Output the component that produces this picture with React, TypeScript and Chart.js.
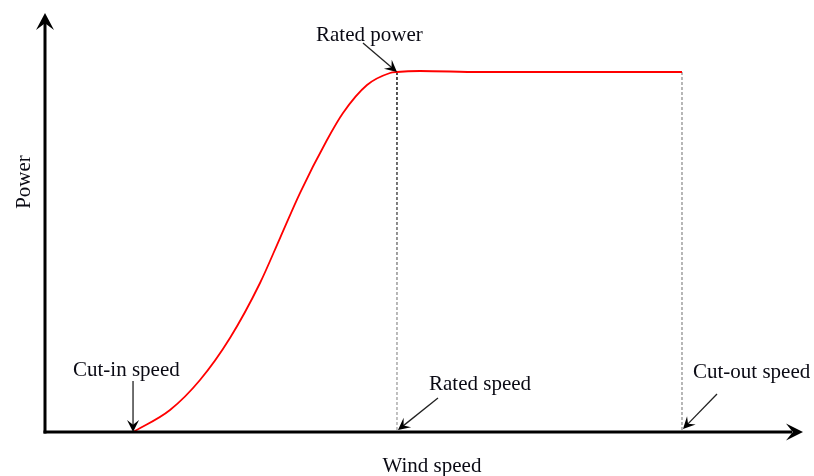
import React, { useEffect, useRef } from "react";
import { Chart, registerables } from "chart.js";

Chart.register(...registerables);

// Power curve (arbitrary units)
const windSpeed = [11.66, 16.56, 20.53, 24.5, 28.48, 31.13, 33.77, 37.35, 39.47, 42.65, 45.7, 46.62, 49.67, 57.62, 70, 84.37];
const power = [0, 5.28, 12.47, 22.54, 35.73, 46.52, 57.31, 70.02, 76.5, 83.21, 86.09, 86.33, 86.57, 86.33, 86.33, 86.33];

const cutInSpeed = 11.66;
const ratedSpeed = 46.62;
const cutOutSpeed = 84.37;
const ratedPower = 86.33;

const xAxisTitle = "Wind speed";
const yAxisTitle = "Power";
const ratedPowerLabel = "Rated power";
const cutInLabel = "Cut-in speed";
const ratedSpeedLabel = "Rated speed";
const cutOutLabel = "Cut-out speed";

const FONT = "21px 'Liberation Serif', 'DejaVu Serif', serif";

function arrowHead(ctx: CanvasRenderingContext2D, tx: number, ty: number, angle: number, L: number, W: number, notch: number) {
  ctx.save();
  ctx.translate(tx, ty);
  ctx.rotate(angle);
  ctx.beginPath();
  ctx.moveTo(0, 0);
  ctx.lineTo(-L, -W);
  ctx.lineTo(-L * notch, 0);
  ctx.lineTo(-L, W);
  ctx.closePath();
  ctx.fill();
  ctx.restore();
}

function arrow(ctx: CanvasRenderingContext2D, fx: number, fy: number, tx: number, ty: number) {
  const ang = Math.atan2(ty - fy, tx - fx);
  ctx.save();
  ctx.strokeStyle = "#222";
  ctx.fillStyle = "#000";
  ctx.lineWidth = 1.3;
  ctx.beginPath();
  ctx.moveTo(fx, fy);
  ctx.lineTo(tx - Math.cos(ang) * 5, ty - Math.sin(ang) * 5);
  ctx.stroke();
  arrowHead(ctx, tx, ty, ang, 12, 6, 0.6);
  ctx.restore();
}

const diagramPlugin = {
  id: "diagram",
  beforeDatasetsDraw(chart: any) {
    const { ctx, scales } = chart;
    const xs = scales.x, ys = scales.y;
    const y0 = ys.getPixelForValue(0);
    const topY = ys.getPixelForValue(ratedPower);
    const rX = xs.getPixelForValue(ratedSpeed);
    const cX = xs.getPixelForValue(cutOutSpeed);
    ctx.save();
    ctx.lineWidth = 1.4;
    ctx.setLineDash([3, 2]);
    const g = ctx.createLinearGradient(0, topY, 0, y0);
    g.addColorStop(0, "#000");
    g.addColorStop(0.35, "#444");
    g.addColorStop(0.6, "#999");
    g.addColorStop(1, "#aaa");
    ctx.strokeStyle = g;
    ctx.beginPath();
    ctx.moveTo(rX, topY);
    ctx.lineTo(rX, y0);
    ctx.stroke();
    ctx.strokeStyle = "#999";
    ctx.beginPath();
    ctx.moveTo(cX, topY);
    ctx.lineTo(cX, y0);
    ctx.stroke();
    ctx.restore();
  },
  afterDraw(chart: any) {
    const { ctx, chartArea, scales } = chart;
    const xs = scales.x, ys = scales.y;
    const x0 = chartArea.left;
    const y0 = ys.getPixelForValue(0);
    const topY = ys.getPixelForValue(ratedPower);
    const rX = xs.getPixelForValue(ratedSpeed);
    const ciX = xs.getPixelForValue(cutInSpeed);
    const coX = xs.getPixelForValue(cutOutSpeed);

    ctx.save();
    // axes
    ctx.strokeStyle = "#000";
    ctx.fillStyle = "#000";
    ctx.lineWidth = 3;
    ctx.setLineDash([]);
    ctx.beginPath();
    ctx.moveTo(x0, y0 + 1.5);
    ctx.lineTo(x0, chartArea.top + 8);
    ctx.stroke();
    arrowHead(ctx, x0, chartArea.top - 2, -Math.PI / 2, 17, 9, 0.6);
    ctx.beginPath();
    ctx.moveTo(x0 - 1.5, y0);
    ctx.lineTo(chartArea.right - 8, y0);
    ctx.stroke();
    arrowHead(ctx, chartArea.right + 3, y0, 0, 17, 8.5, 0.6);

    // annotation arrows
    arrow(ctx, rX - 34, topY - 29, rX, topY);
    arrow(ctx, ciX, y0 - 51, ciX, y0);
    arrow(ctx, rX + 41, y0 - 34, rX + 1, y0 - 2);
    arrow(ctx, coX + 35, y0 - 38, coX + 1, y0 - 3);

    // texts
    ctx.font = FONT;
    ctx.fillStyle = "#0a0a14";
    ctx.textBaseline = "alphabetic";
    ctx.textAlign = "left";
    ctx.fillText(ratedPowerLabel, rX - 81, topY - 31);
    ctx.fillText(cutInLabel, ciX - 60, y0 - 56);
    ctx.fillText(ratedSpeedLabel, rX + 32, y0 - 42);
    ctx.fillText(cutOutLabel, coX + 11, y0 - 54);
    ctx.textAlign = "center";
    ctx.fillText(xAxisTitle, rX + 35, y0 + 40);
    ctx.save();
    ctx.translate(30, 182);
    ctx.rotate(-Math.PI / 2);
    ctx.fillText(yAxisTitle, 0, 0);
    ctx.restore();
    ctx.restore();
  },
};

export default function App() {
  const ref = useRef<HTMLCanvasElement | null>(null);
  useEffect(() => {
    if (!ref.current) return;
    const chart = new Chart(ref.current, {
      type: "line",
      data: {
        datasets: [
          {
            data: windSpeed.map((v, i) => ({ x: v, y: power[i] })),
            borderColor: "#ff0000",
            borderWidth: 1.8,
            pointRadius: 0,
            cubicInterpolationMode: "monotone",
            fill: false,
          },
        ],
      },
      options: {
        animation: false,
        responsive: false,
        layout: { padding: { left: 45, right: 14, top: 15, bottom: 44 } },
        scales: {
          x: { type: "linear", min: 0, max: 100, display: false },
          y: { type: "linear", min: 0, max: 100, display: false },
        },
        plugins: { legend: { display: false }, tooltip: { enabled: false } },
      },
      plugins: [diagramPlugin],
    } as any);
    return () => chart.destroy();
  }, []);
  return (
    <div style={{ position: "absolute", left: 0, top: 0, width: 814, height: 476, background: "#fff" }}>
      <canvas ref={ref} width={814} height={476} />
    </div>
  );
}
